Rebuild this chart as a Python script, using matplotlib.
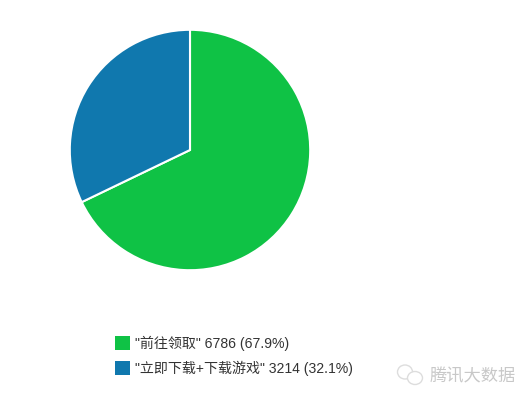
import matplotlib
matplotlib.use("Agg")
import matplotlib.pyplot as plt
from matplotlib.patches import Rectangle, Ellipse

plt.rcParams['font.family'] = ['Liberation Sans', 'Noto Sans CJK SC', 'DejaVu Sans']

labels = ['"前往领取"', '"立即下载+下载游戏"']
values = [6786, 3214]
percents = ['67.9%', '32.1%']
colors = ['#0FC245', '#1078AE']
watermark = '腾讯大数据'

W, H = 530, 401
fig = plt.figure(figsize=(W / 100, H / 100), dpi=100)

# pie box in pixels: x 71-309, y 31-269
ax = fig.add_axes([71 / W, 1 - 269 / H, 238 / W, 238 / H])
wedges, _ = ax.pie(values, colors=colors, startangle=90, counterclock=False, radius=1,
                   wedgeprops={'edgecolor': 'white', 'linewidth': 1.5})
for w in wedges:
    w.set_clip_on(False)
ax.set_xlim(-0.99, 0.99)
ax.set_ylim(-0.99, 0.99)
ax.set_aspect('equal')

# legend
for i in range(len(labels)):
    top = 336 + i * 24.5
    fig.add_artist(Rectangle((115 / W, 1 - (top + 14) / H), 15 / W, 14 / H,
                             transform=fig.transFigure, facecolor=colors[i], edgecolor='none'))
    fig.text(135 / W, 1 - (top + 7.5) / H, f'{labels[i]} {values[i]} ({percents[i]})',
             fontsize=10.1, color='#333333', va='center', ha='left')

# watermark
fig.text(430 / W, 1 - 376 / H, watermark, fontsize=12.4, color='#c8c8c8', va='center', ha='left')
fig.add_artist(Ellipse((405 / W, 1 - 372 / H), 15 / W, 14 / H, transform=fig.transFigure,
                       facecolor='white', edgecolor='#dddddd', linewidth=1))
fig.add_artist(Ellipse((415 / W, 1 - 378 / H), 15 / W, 13 / H, transform=fig.transFigure,
                       facecolor='white', edgecolor='#dddddd', linewidth=1))

fig.savefig('out.png', dpi=100)
